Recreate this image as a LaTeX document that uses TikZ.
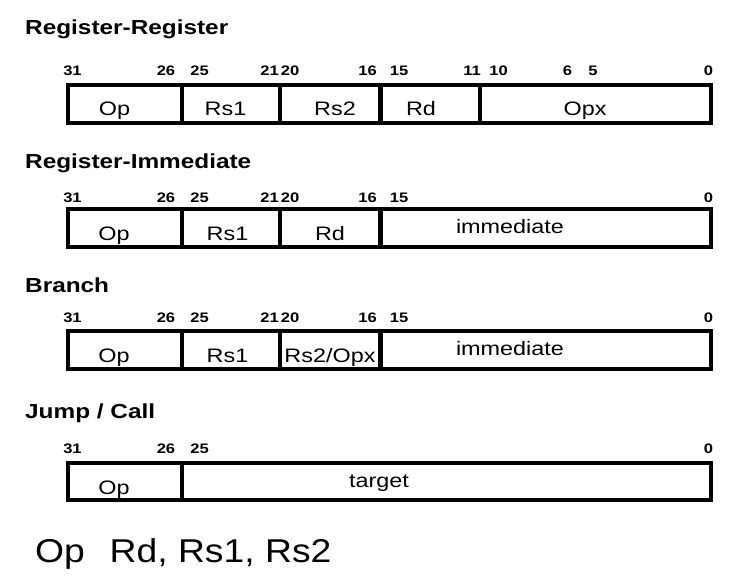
\documentclass[tikz,border=0pt]{standalone}
\usepackage{fontspec}
\setmainfont[FakeStretch=1.2]{Liberation Sans}
\newfontfamily\asmfont[FakeStretch=1.13]{Liberation Sans}
\usetikzlibrary{positioning}

\begin{document}
\begin{tikzpicture}[
  x=1pt,y=-1pt,
  frame/.style={line width=4pt},
  divider/.style={line width=4.5pt},
  rowtitle/.style={anchor=base west,inner sep=0pt,
                   font=\bfseries\fontsize{20.3}{23}\selectfont},
  bitno/.style={anchor=base,inner sep=0pt,font=\bfseries\fontsize{13.8}{16}\selectfont},
  fldtext/.style={anchor=base,inner sep=0pt,font=\fontsize{19.5}{22}\selectfont}
]
\useasboundingbox (0,0) rectangle (755,581);

% Register-Register
\node[rowtitle] (rrtitle) at (25,34) {Register-Register};
\node[bitno] (rr31) at (72.5,75) {31};
\node[bitno] (rr26) at (166,75) {26};
\node[bitno] (rr25) at (199.5,75) {25};
\node[bitno] (rr21) at (269.5,75) {21};
\node[bitno] (rr20) at (290,75) {20};
\node[bitno] (rr16) at (367.5,75) {16};
\node[bitno] (rr15) at (399,75) {15};
\node[bitno] (rr11) at (472,75) {11};
\node[bitno] (rr10) at (498.5,75) {10};
\node[bitno] (rr6) at (567.5,75) {6};
\node[bitno] (rr5) at (593,75) {5};
\node[bitno] (rr0) at (708.5,75) {0};
\draw[frame] (67.5,85) rectangle (711,122.5);
\draw[divider] (182,85) -- (182,122.5);
\draw[divider] (280,85) -- (280,122.5);
\draw[divider] (380.5,85) -- (380.5,122.5);
\draw[frame] (479.5,85) -- (479.5,122.5);
\node[fldtext] (rrop) at (114.5,115) {Op};
\node[fldtext] (rrrs1) at (225.5,115) {Rs1};
\node[fldtext] (rrrs2) at (335,115) {Rs2};
\node[fldtext] (rrrd) at (421,115) {Rd};
\node[fldtext] (rropx) at (585,115) {Opx};

% Register-Immediate
\node[rowtitle] (rititle) at (25,168) {Register-Immediate};
\node[bitno] (ri31) at (72.5,202) {31};
\node[bitno] (ri26) at (166,202) {26};
\node[bitno] (ri25) at (199.5,202) {25};
\node[bitno] (ri21) at (269.5,202) {21};
\node[bitno] (ri20) at (290,202) {20};
\node[bitno] (ri16) at (367.5,202) {16};
\node[bitno] (ri15) at (399,202) {15};
\node[bitno] (ri0) at (708.5,202) {0};
\draw[frame] (67.5,209) rectangle (711,247);
\draw[divider] (182,209) -- (182,247);
\draw[divider] (280,209) -- (280,247);
\draw[divider] (380.5,209) -- (380.5,247);
\node[fldtext] (riop) at (114,240) {Op};
\node[fldtext] (rirs1) at (227.5,240) {Rs1};
\node[fldtext] (rird) at (330,240) {Rd};
\node[fldtext] (riimm) at (510,233) {immediate};

% Branch
\node[rowtitle] (brtitle) at (25,292) {Branch};
\node[bitno] (br31) at (72.5,322) {31};
\node[bitno] (br26) at (166,322) {26};
\node[bitno] (br25) at (199.5,322) {25};
\node[bitno] (br21) at (269.5,322) {21};
\node[bitno] (br20) at (290,322) {20};
\node[bitno] (br16) at (367.5,322) {16};
\node[bitno] (br15) at (399,322) {15};
\node[bitno] (br0) at (708.5,322) {0};
\draw[frame] (67.5,330.5) rectangle (711,368.5);
\draw[divider] (182,330.5) -- (182,368.5);
\draw[divider] (280,330.5) -- (280,368.5);
\draw[divider] (380.5,330.5) -- (380.5,368.5);
\node[fldtext] (brop) at (114,362) {Op};
\node[fldtext] (brrs1) at (227.5,362) {Rs1};
\node[fldtext] (brrs2) at (330,362) {Rs2/Opx};
\node[fldtext] (brimm) at (510,355) {immediate};

% Jump / Call
\node[rowtitle] (jctitle) at (25,418) {Jump / Call};
\node[bitno] (jc31) at (72.5,453) {31};
\node[bitno] (jc26) at (166,453) {26};
\node[bitno] (jc25) at (199.5,453) {25};
\node[bitno] (jc0) at (708.5,453) {0};
\draw[frame] (67.5,463) rectangle (711,500);
\draw[divider] (182,463) -- (182,500);
\node[fldtext] (jcop) at (114,494) {Op};
\node[fldtext] (jctarget) at (379,487) {target};

% assembler form
\node[anchor=base west,inner sep=0pt,font=\asmfont\fontsize{33}{38}\selectfont]
  (asmform) at (35,562) {Op\hspace{0.75em}Rd, Rs1, Rs2};
\end{tikzpicture}
\end{document}
